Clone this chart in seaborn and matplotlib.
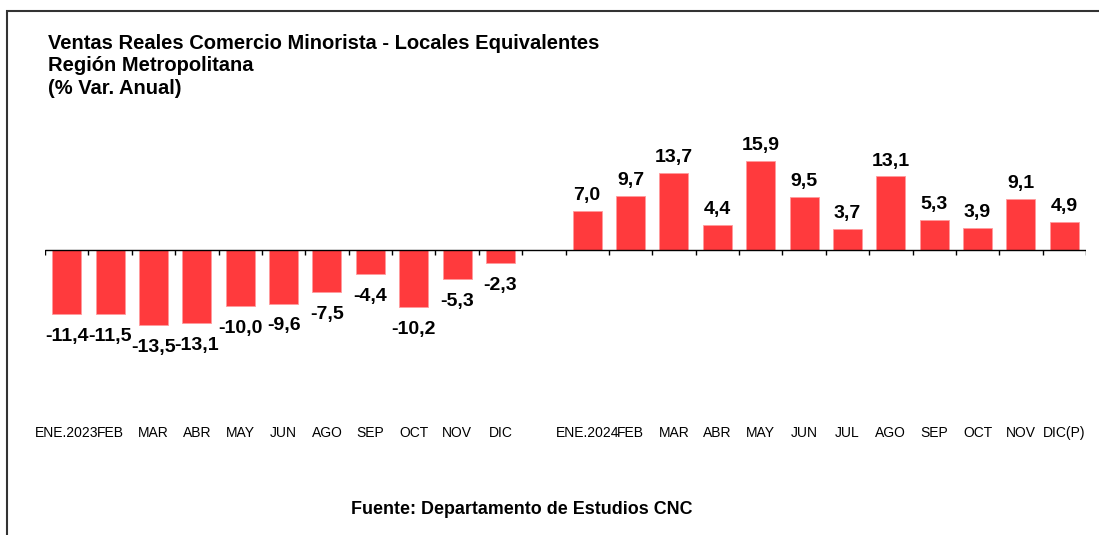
import numpy as np
import pandas as pd
import matplotlib
matplotlib.use('Agg')
import matplotlib.pyplot as plt
from matplotlib.patches import Rectangle
import seaborn as sns

#---------------------------------------------------------
meses_2023=['ENE.2023', 'FEB', 'MAR', 'ABR', 'MAY', 'JUN', 'AGO', 'SEP', 'OCT', 'NOV', 'DIC']
var_2023=[-11.4, -11.5, -13.5, -13.1, -10.0, -9.6, -7.5, -4.4, -10.2, -5.3, -2.3]
meses_2024=['ENE.2024', 'FEB', 'MAR', 'ABR', 'MAY', 'JUN', 'JUL', 'AGO', 'SEP', 'OCT', 'NOV', 'DIC(P)']
var_2024=[7.0, 9.7, 13.7, 4.4, 15.9, 9.5, 3.7, 13.1, 5.3, 3.9, 9.1, 4.9]
titulo='Ventas Reales Comercio Minorista - Locales Equivalentes\nRegión Metropolitana\n(% Var. Anual)'
fuente='Fuente: Departamento de Estudios CNC'
color='#FF3A3D'

#--------------------------------------------------------
keys=[f'2023-{m}' for m in meses_2023]+[f'2024-{m}' for m in meses_2024]
df=pd.DataFrame({'key': keys, 'var': var_2023+var_2024})
order=keys[:11]+['gap']+keys[11:]
tick_lbls=meses_2023+['']+meses_2024

sns.set_style('white')
plt.rcParams['font.family']=['Liberation Sans', 'DejaVu Sans']
plt.rcParams['text.color']='black'
plt.rcParams['xtick.color']='black'

fig=plt.figure(figsize=(10.99, 5.35), dpi=100)
ax=fig.add_axes([45/1099, 1-420/535, (1086-45)/1099, (420-130)/535])
sns.barplot(x='key', y='var', data=df, order=order, color=color, width=0.67,
	edgecolor='#FF9A9C', linewidth=0.6, saturation=1, ax=ax)

ax.set_xlim(-0.5, len(order)-0.5)
ax.set_ylim(-30.4, 21.4)
ax.axhline(0, color='black', lw=1)
ax.vlines(np.arange(len(order)+1)-0.5, -0.9, 0, color='black', lw=1)

#labels
for _, r in df.iterrows():
	pos=order.index(r['key'])
	txt=f"{r['var']:.1f}".replace('.', ',')
	if r['var']>=0:
		ax.annotate(txt, (pos, r['var']), xytext=(0, 5), textcoords='offset points',
			ha='center', va='bottom', fontsize=14, weight='bold')
	else:
		ax.annotate(txt, (pos, r['var']), xytext=(0, -10), textcoords='offset points',
			ha='center', va='top', fontsize=14, weight='bold')

ax.set_xticks(range(len(order)))
ax.set_xticklabels(tick_lbls, fontsize=10, color='black')
ax.tick_params(axis='x', length=0, pad=4)
ax.set_yticks([])
ax.set_xlabel('')
ax.set_ylabel('')
for s in ax.spines.values():
	s.set_visible(False)

#text
fig.text(48/1099, 1-34/535, titulo, ha='left', va='top', fontsize=14.5, weight='bold', linespacing=1.23)
fig.text(522/1099, 1-509/535, fuente, ha='center', va='center', fontsize=12.9, weight='bold')

#frame
fig.patches.append(Rectangle((7/1099, -0.05), 1.2, 1-11/535+0.05, transform=fig.transFigure,
	fill=False, edgecolor='#333333', lw=1.5))

plt.savefig('out.png', dpi=100)
plt.close()
